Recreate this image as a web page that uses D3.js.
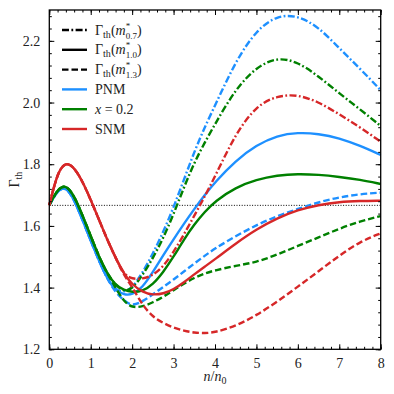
<!DOCTYPE html>
<html lang="en">
<head>
<meta charset="UTF-8">
<title>Gamma_th vs density</title>
<script src="https://d3js.org/d3.v7.min.js"></script>
<style>
  body { margin: 0; background: #fff; }
  svg text { font-family: "Liberation Serif", "DejaVu Serif", serif; fill: #222; }
</style>
</head>
<body>
<div id="chart"></div>
<script>
// density grid n/n0
const density = [0, 0.2, 0.4, 0.6, 0.8, 1.0, 1.2, 1.4, 1.6, 1.8, 2.0, 2.25, 2.5, 2.75,
                 3.0, 3.25, 3.5, 3.75, 4.0, 4.5, 5.0, 5.5, 6.0, 6.5, 7.0, 7.5, 8.0];

// PNM
const pnm07 = [1.667, 1.716, 1.728, 1.686, 1.620, 1.552, 1.487, 1.428, 1.392, 1.385, 1.398, 1.448, 1.510, 1.580,
               1.660, 1.750, 1.840, 1.920, 1.990, 2.135, 2.235, 2.283, 2.282, 2.245, 2.176, 2.110, 2.040];
const pnm10 = [1.667, 1.716, 1.728, 1.686, 1.620, 1.552, 1.487, 1.428, 1.390, 1.377, 1.376, 1.400, 1.450, 1.505,
               1.557, 1.607, 1.655, 1.700, 1.742, 1.812, 1.862, 1.893, 1.903, 1.899, 1.885, 1.860, 1.830];
const pnm13 = [1.667, 1.716, 1.728, 1.686, 1.620, 1.552, 1.487, 1.428, 1.385, 1.358, 1.340, 1.355, 1.378, 1.402,
               1.426, 1.452, 1.478, 1.503, 1.527, 1.567, 1.603, 1.632, 1.655, 1.677, 1.693, 1.703, 1.708];

// x = 0.2
const x02_07 = [1.667, 1.720, 1.734, 1.698, 1.635, 1.567, 1.500, 1.445, 1.408, 1.387, 1.395, 1.440, 1.495, 1.560,
                1.638, 1.725, 1.805, 1.870, 1.930, 2.045, 2.115, 2.147, 2.132, 2.085, 2.030, 1.978, 1.924];
const x02_10 = [1.667, 1.720, 1.734, 1.698, 1.635, 1.567, 1.500, 1.445, 1.408, 1.392, 1.385, 1.388, 1.410, 1.450,
                1.500, 1.556, 1.605, 1.645, 1.680, 1.725, 1.750, 1.764, 1.769, 1.766, 1.759, 1.750, 1.736];
const x02_13 = [1.667, 1.720, 1.734, 1.698, 1.635, 1.567, 1.500, 1.445, 1.400, 1.355, 1.335, 1.338, 1.352, 1.370,
                1.392, 1.413, 1.432, 1.446, 1.456, 1.471, 1.482, 1.507, 1.535, 1.563, 1.591, 1.615, 1.632];

// SNM
const snm07 = [1.667, 1.775, 1.808, 1.790, 1.745, 1.685, 1.620, 1.555, 1.497, 1.442, 1.428, 1.428, 1.440, 1.468,
               1.515, 1.572, 1.633, 1.695, 1.760, 1.900, 1.990, 2.022, 2.026, 2.002, 1.962, 1.920, 1.873];
const snm10 = [1.667, 1.775, 1.808, 1.790, 1.745, 1.685, 1.620, 1.555, 1.497, 1.445, 1.410, 1.385, 1.376, 1.380,
               1.394, 1.417, 1.443, 1.468, 1.492, 1.543, 1.589, 1.625, 1.652, 1.668, 1.678, 1.681, 1.682];
const snm13 = [1.667, 1.775, 1.808, 1.790, 1.745, 1.685, 1.620, 1.555, 1.497, 1.440, 1.403, 1.343, 1.305, 1.285,
               1.270, 1.260, 1.254, 1.252, 1.255, 1.275, 1.310, 1.354, 1.403, 1.453, 1.504, 1.549, 1.576];

const xTicks = [0, 1, 2, 3, 4, 5, 6, 7, 8];
const yTicks = [1.2, 1.4, 1.6, 1.8, 2.0, 2.2];
const idealGamma = 5 / 3;

const colors = { PNM: "#1e90ff", x02: "#008000", SNM: "#d62728" };
const dashes = { m07: "7,2.4,1.8,2.4", m10: null, m13: "6.5,3" };

const width = 394, height = 394;
const margin = { top: 10, right: 13.3, bottom: 44.7, left: 49.3 };

const svg = d3.select("#chart").append("svg")
    .attr("width", width)
    .attr("height", height);

const x = d3.scaleLinear().domain([0, 8]).range([margin.left, width - margin.right]);
const y = d3.scaleLinear().domain([1.2, 2.3]).range([height - margin.bottom, margin.top]);

// reference line Gamma = 5/3
svg.append("line")
    .attr("x1", x(0)).attr("x2", x(8))
    .attr("y1", y(idealGamma)).attr("y2", y(idealGamma))
    .attr("stroke", "#000").attr("stroke-width", 1)
    .attr("stroke-dasharray", "1,1.6");

const line = d3.line()
    .x((d, i) => x(density[i]))
    .y(d => y(d))
    .curve(d3.curveBasis);

const series = [
    { values: pnm07, color: colors.PNM, dash: dashes.m07 },
    { values: pnm10, color: colors.PNM, dash: dashes.m10 },
    { values: pnm13, color: colors.PNM, dash: dashes.m13 },
    { values: x02_07, color: colors.x02, dash: dashes.m07 },
    { values: x02_10, color: colors.x02, dash: dashes.m10 },
    { values: x02_13, color: colors.x02, dash: dashes.m13 },
    { values: snm07, color: colors.SNM, dash: dashes.m07 },
    { values: snm10, color: colors.SNM, dash: dashes.m10 },
    { values: snm13, color: colors.SNM, dash: dashes.m13 }
];

svg.append("g").selectAll("path")
    .data(series)
    .enter().append("path")
    .attr("d", d => line(d.values))
    .attr("fill", "none")
    .attr("stroke", d => d.color)
    .attr("stroke-width", 2.4)
    .attr("stroke-dasharray", d => d.dash);

// axes with inward ticks on all four sides
function styleAxis(g) {
    g.select(".domain").remove();
    g.selectAll("line").attr("stroke", "#000").attr("stroke-width", 1);
    g.selectAll("text").attr("font-size", 14).attr("fill", "#222")
        .attr("font-family", "Liberation Serif, DejaVu Serif, serif");
}
const xMinor = d3.range(0, 8.001, 0.2);
const yMinor = d3.range(1.2, 2.3001, 0.04);

svg.append("g").attr("transform", `translate(0,${y(1.2)})`)
    .call(d3.axisBottom(x).tickValues(xTicks).tickFormat(d3.format("d")).tickSizeInner(-5).tickPadding(9))
    .call(styleAxis);
svg.append("g").attr("transform", `translate(0,${y(1.2)})`)
    .call(d3.axisBottom(x).tickValues(xMinor).tickFormat("").tickSizeInner(-2.5))
    .call(styleAxis);
svg.append("g").attr("transform", `translate(0,${y(2.3)})`)
    .call(d3.axisTop(x).tickValues(xTicks).tickFormat("").tickSizeInner(-5))
    .call(styleAxis);
svg.append("g").attr("transform", `translate(0,${y(2.3)})`)
    .call(d3.axisTop(x).tickValues(xMinor).tickFormat("").tickSizeInner(-2.5))
    .call(styleAxis);
svg.append("g").attr("transform", `translate(${x(0)},0)`)
    .call(d3.axisLeft(y).tickValues(yTicks).tickFormat(d3.format(".1f")).tickSizeInner(-5).tickPadding(9))
    .call(styleAxis);
svg.append("g").attr("transform", `translate(${x(0)},0)`)
    .call(d3.axisLeft(y).tickValues(yMinor).tickFormat("").tickSizeInner(-2.5))
    .call(styleAxis);
svg.append("g").attr("transform", `translate(${x(8)},0)`)
    .call(d3.axisRight(y).tickValues(yTicks).tickFormat("").tickSizeInner(-5))
    .call(styleAxis);
svg.append("g").attr("transform", `translate(${x(8)},0)`)
    .call(d3.axisRight(y).tickValues(yMinor).tickFormat("").tickSizeInner(-2.5))
    .call(styleAxis);

// frame
svg.append("rect")
    .attr("x", x(0)).attr("y", y(2.3))
    .attr("width", x(8) - x(0)).attr("height", y(1.2) - y(2.3))
    .attr("fill", "none").attr("stroke", "#000").attr("stroke-width", 1.3);

// axis labels
const xl = svg.append("text")
    .attr("x", (x(0) + x(8)) / 2).attr("y", 381)
    .attr("text-anchor", "middle").attr("font-size", 14);
xl.append("tspan").attr("font-style", "italic").text("n");
xl.append("tspan").text("/");
xl.append("tspan").attr("font-style", "italic").text("n");
xl.append("tspan").attr("font-size", 10).attr("dy", 3).text("0");

const yl = svg.append("text")
    .attr("transform", `translate(19,${(y(1.2) + y(2.3)) / 2}) rotate(-90)`)
    .attr("text-anchor", "middle").attr("font-size", 14);
yl.append("tspan").text("Γ");
yl.append("tspan").attr("font-size", 10).attr("dy", 3).text("th");

// legend
const legendRows = [
    { kind: "gamma", sub: "0.7", color: "#000", dash: dashes.m07 },
    { kind: "gamma", sub: "1.0", color: "#000", dash: dashes.m10 },
    { kind: "gamma", sub: "1.3", color: "#000", dash: dashes.m13 },
    { kind: "PNM", color: colors.PNM, dash: null },
    { kind: "x02", color: colors.x02, dash: null },
    { kind: "SNM", color: colors.SNM, dash: null }
];
const leg = svg.append("g");
legendRows.forEach((r, i) => {
    const yy = 30 + i * 19.8;
    leg.append("line")
        .attr("x1", 62).attr("x2", 87).attr("y1", yy).attr("y2", yy)
        .attr("stroke", r.color).attr("stroke-width", 2.4)
        .attr("stroke-dasharray", r.dash);
    const t = leg.append("text").attr("x", 95).attr("y", yy + 4.5).attr("font-size", 14);
    if (r.kind === "gamma") {
        t.append("tspan").text("Γ");
        t.append("tspan").attr("font-size", 10).attr("dy", 3).text("th");
        t.append("tspan").attr("dy", -3).text("(");
        t.append("tspan").attr("font-style", "italic").text("m");
        t.append("tspan").attr("font-size", 9).attr("dy", -6).text("*");
        t.append("tspan").attr("font-size", 9).attr("dx", -4.5).attr("dy", 10).text(r.sub);
        t.append("tspan").attr("dy", -4).text(")");
    } else if (r.kind === "x02") {
        t.append("tspan").attr("font-style", "italic").text("x");
        t.append("tspan").text(" = 0.2");
    } else {
        t.text(r.kind);
    }
});
</script>
</body>
</html>
